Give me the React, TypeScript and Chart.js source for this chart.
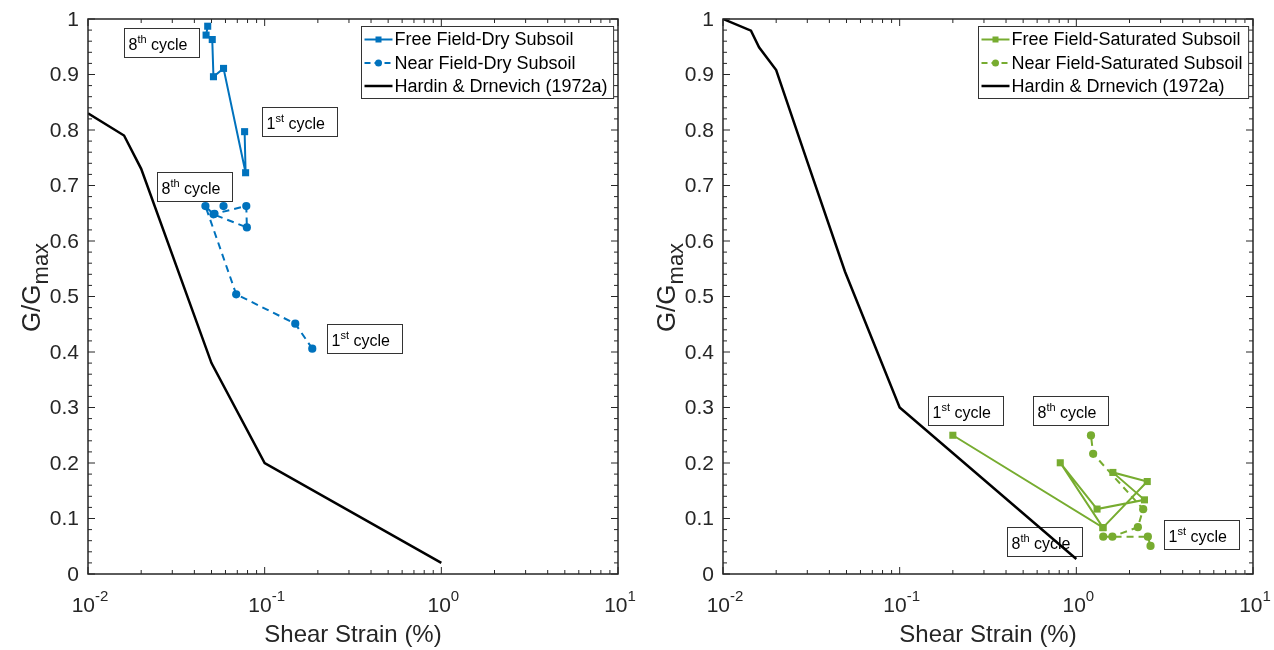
import React, { useEffect, useRef } from 'react';
import { Chart, registerables } from 'chart.js';

Chart.register(...registerables);

const FONT = '"Liberation Sans", Arial, Helvetica, sans-serif';
const AXIS = '#262626';
const BLUE = '#0072BD';
const GREEN = '#77AC30';

// ---- ticks ----
const xMajor = [0.01, 0.1, 1, 10];
const xMajorExp = ['-2', '-1', '0', '1'];
const yMajor = [0, 0.1, 0.2, 0.3, 0.4, 0.5, 0.6, 0.7, 0.8, 0.9, 1];
const yMajorLabels = ['0', '0.1', '0.2', '0.3', '0.4', '0.5', '0.6', '0.7', '0.8', '0.9', '1'];

// ---- dry subsoil (left) ----
const hardinDryX = [0.01, 0.016, 0.02, 0.05, 0.1, 1];
const hardinDryY = [0.83, 0.79, 0.73, 0.38, 0.2, 0.02];
const freeDryX = [0.077, 0.078, 0.0585, 0.0513, 0.0505, 0.0466, 0.0476];
const freeDryY = [0.797, 0.723, 0.911, 0.896, 0.963, 0.971, 0.987];
const nearDryX = [0.186, 0.149, 0.069, 0.0462, 0.0513, 0.0793, 0.0787, 0.052, 0.0585];
const nearDryY = [0.406, 0.451, 0.504, 0.663, 0.648, 0.6245, 0.663, 0.649, 0.663];

// ---- saturated subsoil (right) ----
const hardinSatX = [0.01, 0.0144, 0.016, 0.02, 0.03, 0.049, 0.1, 1];
const hardinSatY = [1.0, 0.979, 0.949, 0.908, 0.743, 0.545, 0.3, 0.027];
const freeSatX = [0.2, 1.415, 0.811, 1.31, 2.43, 1.61, 2.52, 1.415];
const freeSatY = [0.25, 0.0836, 0.2004, 0.117, 0.1336, 0.183, 0.1666, 0.0836];
const nearSatX = [2.63, 2.54, 1.42, 1.6, 2.23, 2.39, 1.245, 1.21];
const nearSatY = [0.0505, 0.0673, 0.0673, 0.0673, 0.0843, 0.1168, 0.2166, 0.2496];

// ---- legends ----
const dryLegend = ['Free Field-Dry Subsoil', 'Near Field-Dry Subsoil', 'Hardin & Drnevich (1972a)'];
const satLegend = ['Free Field-Saturated Subsoil', 'Near Field-Saturated Subsoil', 'Hardin & Drnevich (1972a)'];

// ---- cycle notes (box centre in data coords) ----
const dryNoteX = [0.0262, 0.157, 0.0403, 0.369];
const dryNoteY = [0.958, 0.816, 0.698, 0.425];
const dryNoteNum = ['8', '1', '8', '1'];
const dryNoteSup = ['th', 'st', 'th', 'st'];
const satNoteX = [0.237, 0.932, 0.66, 5.09];
const satNoteY = [0.2948, 0.2948, 0.0583, 0.0704];
const satNoteNum = ['1', '8', '8', '1'];
const satNoteSup = ['st', 'th', 'th', 'st'];

const zip = (xs: number[], ys: number[]) => xs.map((x, i) => ({ x, y: ys[i] }));

type Part = { t: string; size: number; dy: number };

function drawParts(ctx: CanvasRenderingContext2D, parts: Part[], x: number, y: number, align: 'left' | 'center') {
  let total = 0;
  const widths = parts.map((p) => {
    ctx.font = `${p.size}px ${FONT}`;
    const w = ctx.measureText(p.t).width;
    total += w;
    return w;
  });
  let cx = align === 'center' ? x - total / 2 : x;
  ctx.textAlign = 'left';
  ctx.textBaseline = 'alphabetic';
  parts.forEach((p, i) => {
    ctx.font = `${p.size}px ${FONT}`;
    ctx.fillText(p.t, cx, y + p.dy);
    cx += widths[i];
  });
  return total;
}

interface PanelCfg {
  legend: string[];
  color: string;
  noteX: number[];
  noteY: number[];
  noteNum: string[];
  noteSup: string[];
}

function panelPlugin(cfg: PanelCfg) {
  return {
    id: 'panelDecor',
    beforeDatasetsDraw(chart: any) {
      const ctx: CanvasRenderingContext2D = chart.ctx;
      const xs = chart.scales.x;
      const ys = chart.scales.y;
      ctx.save();
      cfg.noteX.forEach((v, i) => {
        const cx = xs.getPixelForValue(v);
        const cy = ys.getPixelForValue(cfg.noteY[i]);
        const w = 75;
        const h = 29;
        const l = Math.round(cx - w / 2) + 0.5;
        const t = Math.round(cy - h / 2) + 0.5;
        ctx.fillStyle = '#ffffff';
        ctx.fillRect(l, t, w, h);
        ctx.strokeStyle = '#333333';
        ctx.lineWidth = 1;
        ctx.strokeRect(l, t, w, h);
        ctx.fillStyle = '#000000';
        drawParts(
          ctx,
          [
            { t: cfg.noteNum[i], size: 16, dy: 0 },
            { t: cfg.noteSup[i], size: 11, dy: -7 },
            { t: ' cycle', size: 16, dy: 0 },
          ],
          l + 4,
          t + 21,
          'left'
        );
      });
      ctx.restore();
    },
    afterDraw(chart: any) {
      const ctx: CanvasRenderingContext2D = chart.ctx;
      const a = chart.chartArea;
      const xs = chart.scales.x;
      const ys = chart.scales.y;
      ctx.save();
      // ticks
      ctx.strokeStyle = AXIS;
      ctx.lineWidth = 1;
      ctx.beginPath();
      for (let d = 0; d < xMajor.length; d++) {
        const base = xMajor[d];
        const px = xs.getPixelForValue(base);
        ctx.moveTo(px, a.bottom);
        ctx.lineTo(px, a.bottom - 7);
        ctx.moveTo(px, a.top);
        ctx.lineTo(px, a.top + 7);
        if (d < xMajor.length - 1) {
          for (let m = 2; m <= 9; m++) {
            const mx = xs.getPixelForValue(base * m);
            ctx.moveTo(mx, a.bottom);
            ctx.lineTo(mx, a.bottom - 4);
            ctx.moveTo(mx, a.top);
            ctx.lineTo(mx, a.top + 4);
          }
        }
      }
      for (let k = 0; k <= 50; k++) {
        const v = k / 50;
        const py = ys.getPixelForValue(v);
        const len = k % 5 === 0 ? 7 : 4;
        ctx.moveTo(a.left, py);
        ctx.lineTo(a.left + len, py);
        ctx.moveTo(a.right, py);
        ctx.lineTo(a.right - len, py);
      }
      ctx.stroke();
      // frame
      ctx.lineWidth = 1.5;
      ctx.strokeRect(a.left, a.top, a.right - a.left, a.bottom - a.top);

      // y tick labels
      ctx.fillStyle = AXIS;
      ctx.font = `21px ${FONT}`;
      ctx.textAlign = 'right';
      ctx.textBaseline = 'middle';
      yMajor.forEach((v, i) => {
        ctx.fillText(yMajorLabels[i], a.left - 9, ys.getPixelForValue(v) + 1);
      });
      // x tick labels
      xMajor.forEach((v, i) => {
        const px = xs.getPixelForValue(v);
        drawParts(
          ctx,
          [
            { t: '10', size: 21, dy: 0 },
            { t: xMajorExp[i], size: 15, dy: -11 },
          ],
          px + 2,
          a.bottom + 38,
          'center'
        );
      });
      // x axis title
      ctx.fillStyle = AXIS;
      ctx.font = `24px ${FONT}`;
      ctx.textAlign = 'center';
      ctx.textBaseline = 'alphabetic';
      ctx.fillText('Shear Strain (%)', (a.left + a.right) / 2, a.bottom + 68);
      // y axis title
      ctx.save();
      ctx.translate(a.left - 48, (a.top + a.bottom) / 2 - 9);
      ctx.rotate(-Math.PI / 2);
      drawParts(
        ctx,
        [
          { t: 'G/G', size: 26, dy: 0 },
          { t: 'max', size: 22, dy: 8 },
        ],
        0,
        0,
        'center'
      );
      ctx.restore();

      // legend
      ctx.font = `18px ${FONT}`;
      let maxW = 0;
      cfg.legend.forEach((s) => {
        maxW = Math.max(maxW, ctx.measureText(s).width);
      });
      const lw = 33 + maxW + 6;
      const lh = 72;
      const lr = a.right - 5;
      const ll = Math.round(lr - lw) + 0.5;
      const lt = Math.round(a.top + 7) + 0.5;
      ctx.fillStyle = '#ffffff';
      ctx.fillRect(ll, lt, lw, lh);
      ctx.strokeStyle = '#333333';
      ctx.lineWidth = 1;
      ctx.strokeRect(ll, lt, lw, lh);
      const rowY = [lt + 13, lt + 36.5, lt + 59.5];
      cfg.legend.forEach((s, i) => {
        const y = rowY[i];
        const c = i === 2 ? '#000000' : cfg.color;
        ctx.strokeStyle = c;
        ctx.fillStyle = c;
        ctx.lineWidth = i === 2 ? 2.5 : 2;
        ctx.setLineDash(i === 1 ? [6, 4] : []);
        ctx.beginPath();
        ctx.moveTo(ll + 3, y);
        ctx.lineTo(ll + 31, y);
        ctx.stroke();
        ctx.setLineDash([]);
        const mx = ll + 17;
        if (i === 0) {
          ctx.fillRect(mx - 3, y - 3, 6, 6);
        } else if (i === 1) {
          ctx.beginPath();
          ctx.arc(mx, y, 3.5, 0, Math.PI * 2);
          ctx.fill();
        }
        ctx.fillStyle = '#000000';
        ctx.font = `18px ${FONT}`;
        ctx.textAlign = 'left';
        ctx.textBaseline = 'middle';
        ctx.fillText(s, ll + 33, y + 1);
      });
      ctx.restore();
    },
  };
}

function makeConfig(
  color: string,
  free: { x: number; y: number }[],
  near: { x: number; y: number }[],
  hardin: { x: number; y: number }[],
  yWidth: number,
  padRight: number,
  cfg: PanelCfg
): any {
  return {
    type: 'scatter',
    data: {
      datasets: [
        {
          label: cfg.legend[2],
          data: hardin,
          showLine: true,
          borderColor: '#000000',
          borderWidth: 2.5,
          pointRadius: 0,
          fill: false,
        },
        {
          label: cfg.legend[1],
          data: near,
          showLine: true,
          borderColor: color,
          backgroundColor: color,
          borderWidth: 2,
          borderDash: [7, 5],
          pointStyle: 'circle',
          pointRadius: 4.1,
          pointBorderWidth: 0,
          fill: false,
        },
        {
          label: cfg.legend[0],
          data: free,
          showLine: true,
          borderColor: color,
          backgroundColor: color,
          borderWidth: 2,
          pointStyle: 'rect',
          pointRadius: 5,
          pointBorderWidth: 0,
          fill: false,
        },
      ],
    },
    options: {
      animation: false,
      responsive: false,
      maintainAspectRatio: false,
      events: [],
      layout: { padding: { top: 19, right: padRight, left: 0, bottom: 0 } },
      scales: {
        x: {
          type: 'logarithmic',
          min: 0.01,
          max: 10,
          ticks: { display: false },
          grid: { display: false },
          border: { display: false },
          afterFit: (s: any) => {
            s.height = 76;
          },
        },
        y: {
          type: 'linear',
          min: 0,
          max: 1,
          ticks: { display: false },
          grid: { display: false },
          border: { display: false },
          afterFit: (s: any) => {
            s.width = yWidth;
          },
        },
      },
      plugins: {
        legend: { display: false },
        tooltip: { enabled: false },
      },
    },
    plugins: [panelPlugin(cfg)],
  };
}

function Panel(props: { config: any; left: number; width: number }) {
  const ref = useRef<HTMLCanvasElement | null>(null);
  useEffect(() => {
    if (!ref.current) return;
    const chart = new Chart(ref.current, props.config);
    return () => chart.destroy();
  }, []);
  return (
    <canvas
      ref={ref}
      width={props.width}
      height={650}
      style={{ position: 'absolute', left: props.left, top: 0, width: props.width, height: 650 }}
    />
  );
}

export default function App() {
  const dryCfg = makeConfig(
    BLUE,
    zip(freeDryX, freeDryY),
    zip(nearDryX, nearDryY),
    zip(hardinDryX, hardinDryY),
    88,
    19,
    { legend: dryLegend, color: BLUE, noteX: dryNoteX, noteY: dryNoteY, noteNum: dryNoteNum, noteSup: dryNoteSup }
  );
  const satCfg = makeConfig(
    GREEN,
    zip(freeSatX, freeSatY),
    zip(nearSatX, nearSatY),
    zip(hardinSatX, hardinSatY),
    86,
    21,
    { legend: satLegend, color: GREEN, noteX: satNoteX, noteY: satNoteY, noteNum: satNoteNum, noteSup: satNoteSup }
  );
  return (
    <div style={{ position: 'fixed', left: 0, top: 0, width: 1274, height: 650, background: '#ffffff' }}>
      <Panel config={dryCfg} left={0} width={637} />
      <Panel config={satCfg} left={637} width={637} />
    </div>
  );
}
